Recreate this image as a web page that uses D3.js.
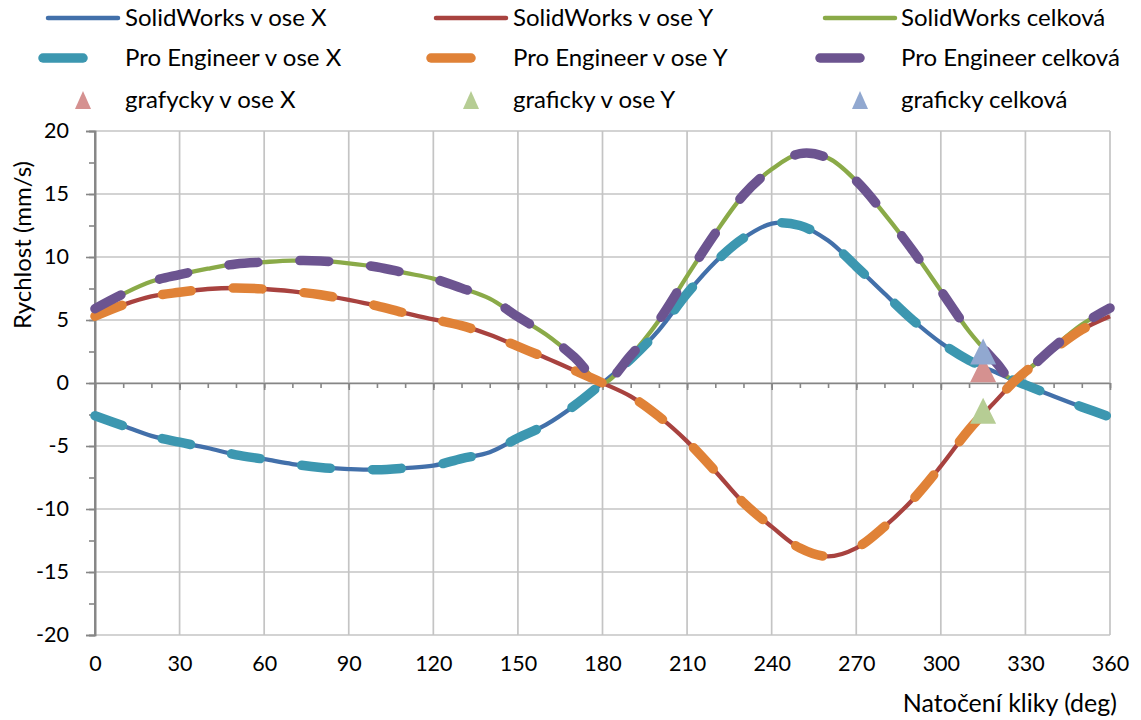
<!DOCTYPE html>
<html><head><meta charset="utf-8">
<script src="https://cdn.jsdelivr.net/npm/d3@7"></script>
<style>
body{margin:0;background:#fff}
svg{display:block}
text{font-family:Lato,"Open Sans",sans-serif;fill:#000}
</style>
</head><body>
<svg id="chart" width="1141" height="720"></svg>
<script>
// ---- data ----
const angles = [0,10,20,30,40,50,60,70,80,90,100,110,120,130,140,150,160,170,180,190,200,210,220,230,240,250,260,270,280,290,300,310,320,325,330,340,350,360];
const swX = [-2.6,-3.4,-4.2,-4.7,-5.16,-5.7,-6.05,-6.43,-6.7,-6.83,-6.88,-6.75,-6.56,-6.0,-5.5,-4.37,-3.3,-1.8,0,1.9,4.2,7.1,9.6,11.5,12.65,12.5,11.3,9.25,7.1,5.0,3.2,1.8,0.8,0.3,-0.15,-1.05,-1.9,-2.7];
const swY = [5.3,6.2,6.87,7.2,7.46,7.54,7.46,7.27,7.0,6.6,6.13,5.55,5.05,4.55,3.83,2.9,1.98,1.0,0,-1.06,-2.65,-4.63,-7.0,-9.5,-11.4,-13.1,-13.76,-13.1,-11.4,-9.26,-6.6,-3.7,-1.3,-0.1,0.9,2.64,4.23,5.3];
const swTotal = [5.9,7.07,8.05,8.6,9.07,9.45,9.6,9.71,9.69,9.5,9.21,8.74,8.28,7.53,6.7,5.25,3.85,2.06,0,2.18,4.97,8.48,11.88,14.92,16.96,18.2,17.85,16.04,13.43,10.52,7.33,4.11,1.53,0.32,0.91,2.84,4.64,5.95];
const proeX = [-2.6,-3.4,-4.2,-4.7,-5.16,-5.7,-6.05,-6.43,-6.7,-6.83,-6.88,-6.75,-6.56,-6.0,-5.5,-4.37,-3.3,-1.8,0,1.9,4.2,7.1,9.6,11.5,12.65,12.5,11.3,9.25,7.1,5.0,3.2,1.8,0.8,0.3,-0.15,-1.05,-1.9,-2.7];
const proeY = [5.3,6.2,6.87,7.2,7.46,7.54,7.46,7.27,7.0,6.6,6.13,5.55,5.05,4.55,3.83,2.9,1.98,1.0,0,-1.06,-2.65,-4.63,-7.0,-9.5,-11.4,-13.1,-13.76,-13.1,-11.4,-9.26,-6.6,-3.7,-1.3,-0.1,0.9,2.64,4.23,5.3];
const proeTotal = [5.9,7.07,8.05,8.6,9.07,9.45,9.6,9.71,9.69,9.5,9.21,8.74,8.28,7.53,6.7,5.25,3.85,2.06,0,2.18,4.97,8.48,11.88,14.92,16.96,18.2,17.85,16.04,13.43,10.52,7.33,4.11,1.53,0.32,0.91,2.84,4.64,5.95];
const graphAngle = [315];
const graphX = [1.1];
const graphY = [-2.2];
const graphTotal = [2.5];
const xTicks = [0,30,60,90,120,150,180,210,240,270,300,330,360];
const yTicks = [-20,-15,-10,-5,0,5,10,15,20];
const legendNames = ["SolidWorks v ose X","SolidWorks v ose Y","SolidWorks celková",
                     "Pro Engineer v ose X","Pro Engineer v ose Y","Pro Engineer celková",
                     "grafycky v ose X","graficky v ose Y","graficky celková"];
const xTitle = "Natočení kliky (deg)";
const yTitle = "Rychlost (mm/s)";

// ---- chart ----
const svg = d3.select("#chart");
const x = d3.scaleLinear().domain([0,360]).range([95,1110]);
const y = d3.scaleLinear().domain([-20,20]).range([635,131]);

const gridColor = "#c4c4c4", axisColor = "#868686";
const fmt = d => String(d);

// grid
svg.append("g").selectAll("line").data(yTicks).join("line")
  .attr("x1", x(0)).attr("x2", x(360)).attr("y1", d=>y(d)).attr("y2", d=>y(d))
  .attr("stroke", gridColor).attr("stroke-width", 1.7);
svg.append("g").selectAll("line").data(xTicks).join("line")
  .attr("y1", y(20)).attr("y2", y(-20)).attr("x1", d=>x(d)).attr("x2", d=>x(d))
  .attr("stroke", gridColor).attr("stroke-width", 1.7);

// y axis
const yMinor = d3.range(-20, 20.01, 2.5);
svg.append("g").attr("transform", `translate(${x(0)},0)`)
  .call(d3.axisLeft(y).tickValues(yMinor).tickSize(6).tickFormat(""))
  .call(g=>{g.selectAll("line,path").attr("stroke", axisColor).attr("stroke-width",1.6);});
const yAx = svg.append("g").attr("transform", `translate(${x(0)},0)`)
  .call(d3.axisLeft(y).tickValues(yTicks).tickSize(9).tickPadding(17).tickFormat(fmt));
yAx.selectAll("line,path").attr("stroke", axisColor).attr("stroke-width",1.6);
yAx.selectAll("text").attr("font-size", 21.5).attr("font-family","Lato").attr("fill","#000");

// x axis at zero
const xMinor = d3.range(0, 360.01, 10);
svg.append("g").attr("transform", `translate(0,${y(0)})`)
  .call(d3.axisBottom(x).tickValues(xMinor).tickSize(5).tickSizeOuter(0).tickFormat(""))
  .call(g=>{g.selectAll("line,path").attr("stroke", axisColor).attr("stroke-width",1.6);});
svg.append("g").attr("transform", `translate(0,${y(0)})`)
  .call(d3.axisBottom(x).tickValues(xTicks).tickSize(7).tickSizeOuter(0).tickFormat(""))
  .call(g=>{g.select("path").remove(); g.selectAll("line").attr("stroke", axisColor).attr("stroke-width",1.6);});
// x labels at bottom
const xAx = svg.append("g").attr("transform", `translate(0,${y(-20)})`)
  .call(d3.axisBottom(x).tickValues(xTicks).tickSize(0).tickPadding(21).tickFormat(fmt));
xAx.select("path").remove();
xAx.selectAll("text").attr("font-size", 21.5).attr("font-family","Lato").attr("fill","#000");

// y axis line on top of grid
svg.append("line").attr("x1",x(0)).attr("x2",x(0)).attr("y1",y(20)).attr("y2",y(-20))
  .attr("stroke",axisColor).attr("stroke-width",1.8);

// titles
svg.append("text").attr("transform","translate(31,245) rotate(-90)")
  .attr("text-anchor","middle").attr("font-size",24).text(yTitle);
svg.append("text").attr("x",1117).attr("y",712).attr("text-anchor","end")
  .attr("font-size",25).text(xTitle);

// series
const solid = [
  {v: swX, c: "#4270aa"},
  {v: swY, c: "#a8423f"},
  {v: swTotal, c: "#8aaa48"}
];
const dashed = [
  {v: proeX, c: "#3c97b0"},
  {v: proeY, c: "#e08237"},
  {v: proeTotal, c: "#6c5490"}
];
const line = d3.line().x((d,i)=>x(angles[i])).y(d=>y(d)).curve(d3.curveCatmullRom.alpha(0.5));
const dashPattern = "29,42";
solid.forEach(s=>{
  svg.append("path").attr("d", line(s.v)).attr("fill","none")
    .attr("stroke", s.c).attr("stroke-width", 4.3).attr("stroke-linejoin","round");
});
dashed.forEach(s=>{
  svg.append("path").attr("d", line(s.v)).attr("fill","none")
    .attr("stroke", s.c).attr("stroke-width", 9.5).attr("stroke-linecap","round")
    .attr("stroke-dasharray", dashPattern);
});

// markers
const markers = [
  {v: graphX, c: "#d59190"},
  {v: graphY, c: "#b6cd94"},
  {v: graphTotal, c: "#91a8d0"}
];
function triPath(cx, cy, w, h){
  return `M${cx},${cy-h/2}L${cx+w/2},${cy+h/2}L${cx-w/2},${cy+h/2}Z`;
}
markers.forEach(m=>{
  svg.append("g").selectAll("path").data(m.v).join("path")
    .attr("d",(d,i)=>triPath(x(graphAngle[i]), y(d), 26, 26))
    .attr("fill", m.c);
});

// legend
const colX = [45, 433, 822];
const textX = [125, 513, 901];
const rowY = [18, 58, 100];
const legendStyles = [
  ...solid.map(s=>({type:"solid", c:s.c})),
  ...dashed.map(s=>({type:"dash", c:s.c})),
  ...markers.map(s=>({type:"tri", c:s.c}))
];
legendNames.forEach((name,i)=>{
  const r = Math.floor(i/3), c = i%3;
  const st = legendStyles[i];
  const cy = rowY[r];
  if(st.type==="solid"){
    svg.append("line").attr("x1",colX[c]+3).attr("x2",colX[c]+73).attr("y1",cy).attr("y2",cy)
      .attr("stroke",st.c).attr("stroke-width",4.5).attr("stroke-linecap","round");
  } else if(st.type==="dash"){
    svg.append("line").attr("x1",colX[c]-2).attr("x2",colX[c]+38).attr("y1",cy).attr("y2",cy)
      .attr("stroke",st.c).attr("stroke-width",9.5).attr("stroke-linecap","round");
  } else {
    svg.append("path").attr("d",triPath(colX[c]+38, cy, 16, 18)).attr("fill",st.c);
  }
  svg.append("text").attr("x",textX[c]).attr("y",cy+8).attr("font-size",24).text(name);
});
</script>
</body></html>
